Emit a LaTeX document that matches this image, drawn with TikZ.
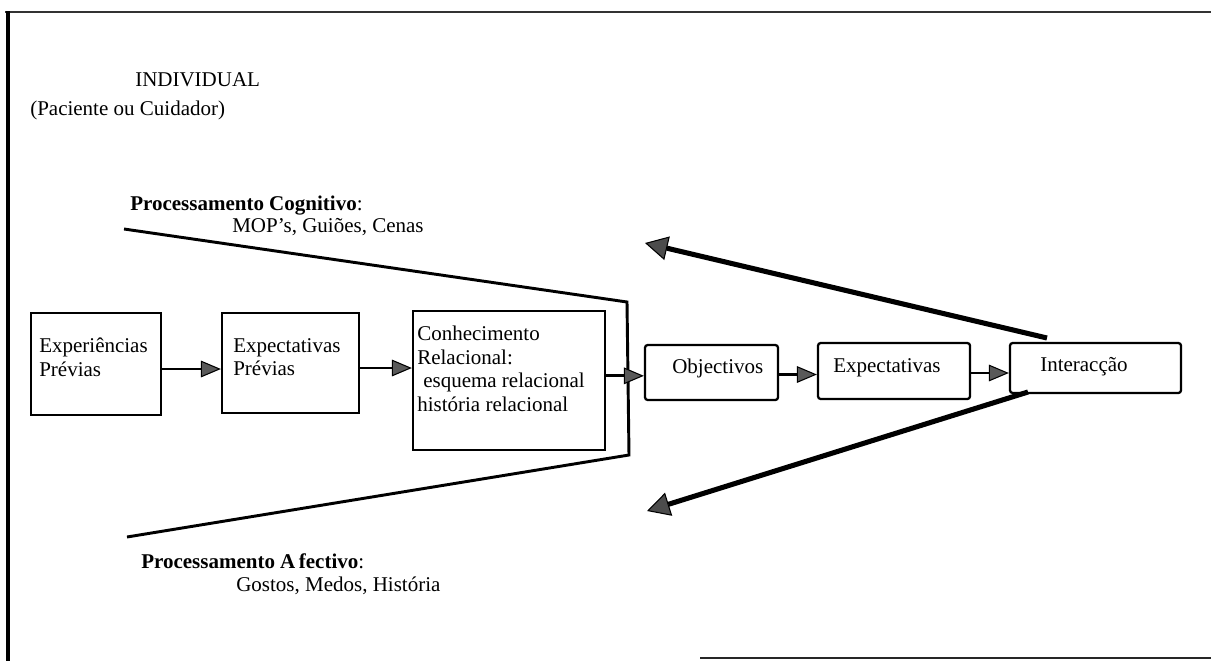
\documentclass[tikz,border=0pt]{standalone}
\usepackage{fontspec}
\setmainfont{Liberation Serif}
\usetikzlibrary{arrows.meta,fit}
\begin{document}
\begin{tikzpicture}[x=0.75pt,y=-0.75pt,
  every node/.style={font=\fontsize{15.75}{17.6}\selectfont, inner sep=0pt},
  txt/.style={anchor=base west, align=left},
  btxt/.style={anchor=north west, align=left},
  boxstyle/.style={draw, line width=1.7pt, fit={#1}},
  rbox/.style={draw, line width=1.7pt, rounded corners=2pt, fit={#1}},
  smallarr/.style={line width=2.1pt, -{Triangle[length=15pt,width=12.5pt,line width=0.8pt,fill=black!65]}},
  bigarr/.style={line width=3.8pt, -{Triangle[length=17pt,width=18pt,line width=0.8pt,fill=black!70]}},
  funnel/.style={line width=2.2pt, line join=miter},
  frame/.style={line width=2pt}
]
\useasboundingbox (0,0) rectangle (1211,661);

% frame
\draw[frame, black!80] (5,12) -- (1211,12);
\draw[frame, line width=2.6pt] (8,11) -- (8,661);
\draw[frame, black!85] (700,658) -- (1211,658);

% titles
\node[txt] (title) at (135,86) {INDIVIDUAL};
\node[txt] (who) at (30,115) {(Paciente ou Cuidador)};

\node[txt] (cog) at (130,210) {\textbf{Processamento Cognitivo}:};
\node[txt] (cogsub) at (232,232) {MOP’s, Guiões, Cenas};
\node[txt] (afe) at (141,568) {\textbf{Processamento A\,fectivo}:};
\node[txt] (afesub) at (236,591) {Gostos, Medos, História};

% funnel
\coordinate (f1) at (124,229);
\coordinate (f2) at (627,302);
\coordinate (f3) at (629,455);
\coordinate (f4) at (127,537);
\draw[funnel] (f1) -- (f2) -- (f3) -- (f4);

% left boxes
\node[boxstyle={(31,313) (161,415)}] (b1) {};
\node[boxstyle={(222,313) (359,413)}] (b2) {};
\node[boxstyle={(413,311) (605,450)}] (b3) {};
\node[btxt] (t1) at (39,338) {Experiências\\Prévias};
\node[btxt] (t2) at (233,338) {Expectativas\\Prévias};
\node[btxt] (t3) at (417,326) {Conhecimento\\Relacional:\\\hspace{4.5pt}esquema relacional\\história relacional};

% right boxes
\node[rbox={(645,345) (778,400)}] (o) {};
\node[rbox={(818,343) (970,399)}] (e) {};
\node[rbox={(1010,343) (1181,393)}] (i) {};
\node[txt] (to) at (672,373) {Objectivos};
\node[txt] (te) at (833,372) {Expectativas};
\node[txt] (ti) at (1040,371) {Interacção};

% small arrows
\draw[smallarr] ([yshift=-3.75pt]b1.east) -- ([yshift=-3.75pt]b1.east -| b2.west);
\draw[smallarr] ([yshift=-3.75pt]b2.east) -- ([yshift=-3.75pt]b2.east -| b3.west);
\draw[smallarr] ([yshift=-2.5pt]b3.east |- o.west) -- ([yshift=-2.5pt]o.west);
\draw[smallarr] ([yshift=-1.5pt]o.east) -- ([yshift=-1.5pt]o.east -| e.west);
\draw[smallarr] ([yshift=-1.5pt]e.east) -- ([yshift=-1.5pt]e.east -| i.west);

% big arrows
\coordinate (s1) at (1047,338);
\coordinate (e1) at (645,243);
\coordinate (s2) at (1028,392);
\coordinate (e2) at (647,511);
\draw[bigarr] (s1) -- (e1);
\draw[bigarr] (s2) -- (e2);
\end{tikzpicture}
\end{document}
